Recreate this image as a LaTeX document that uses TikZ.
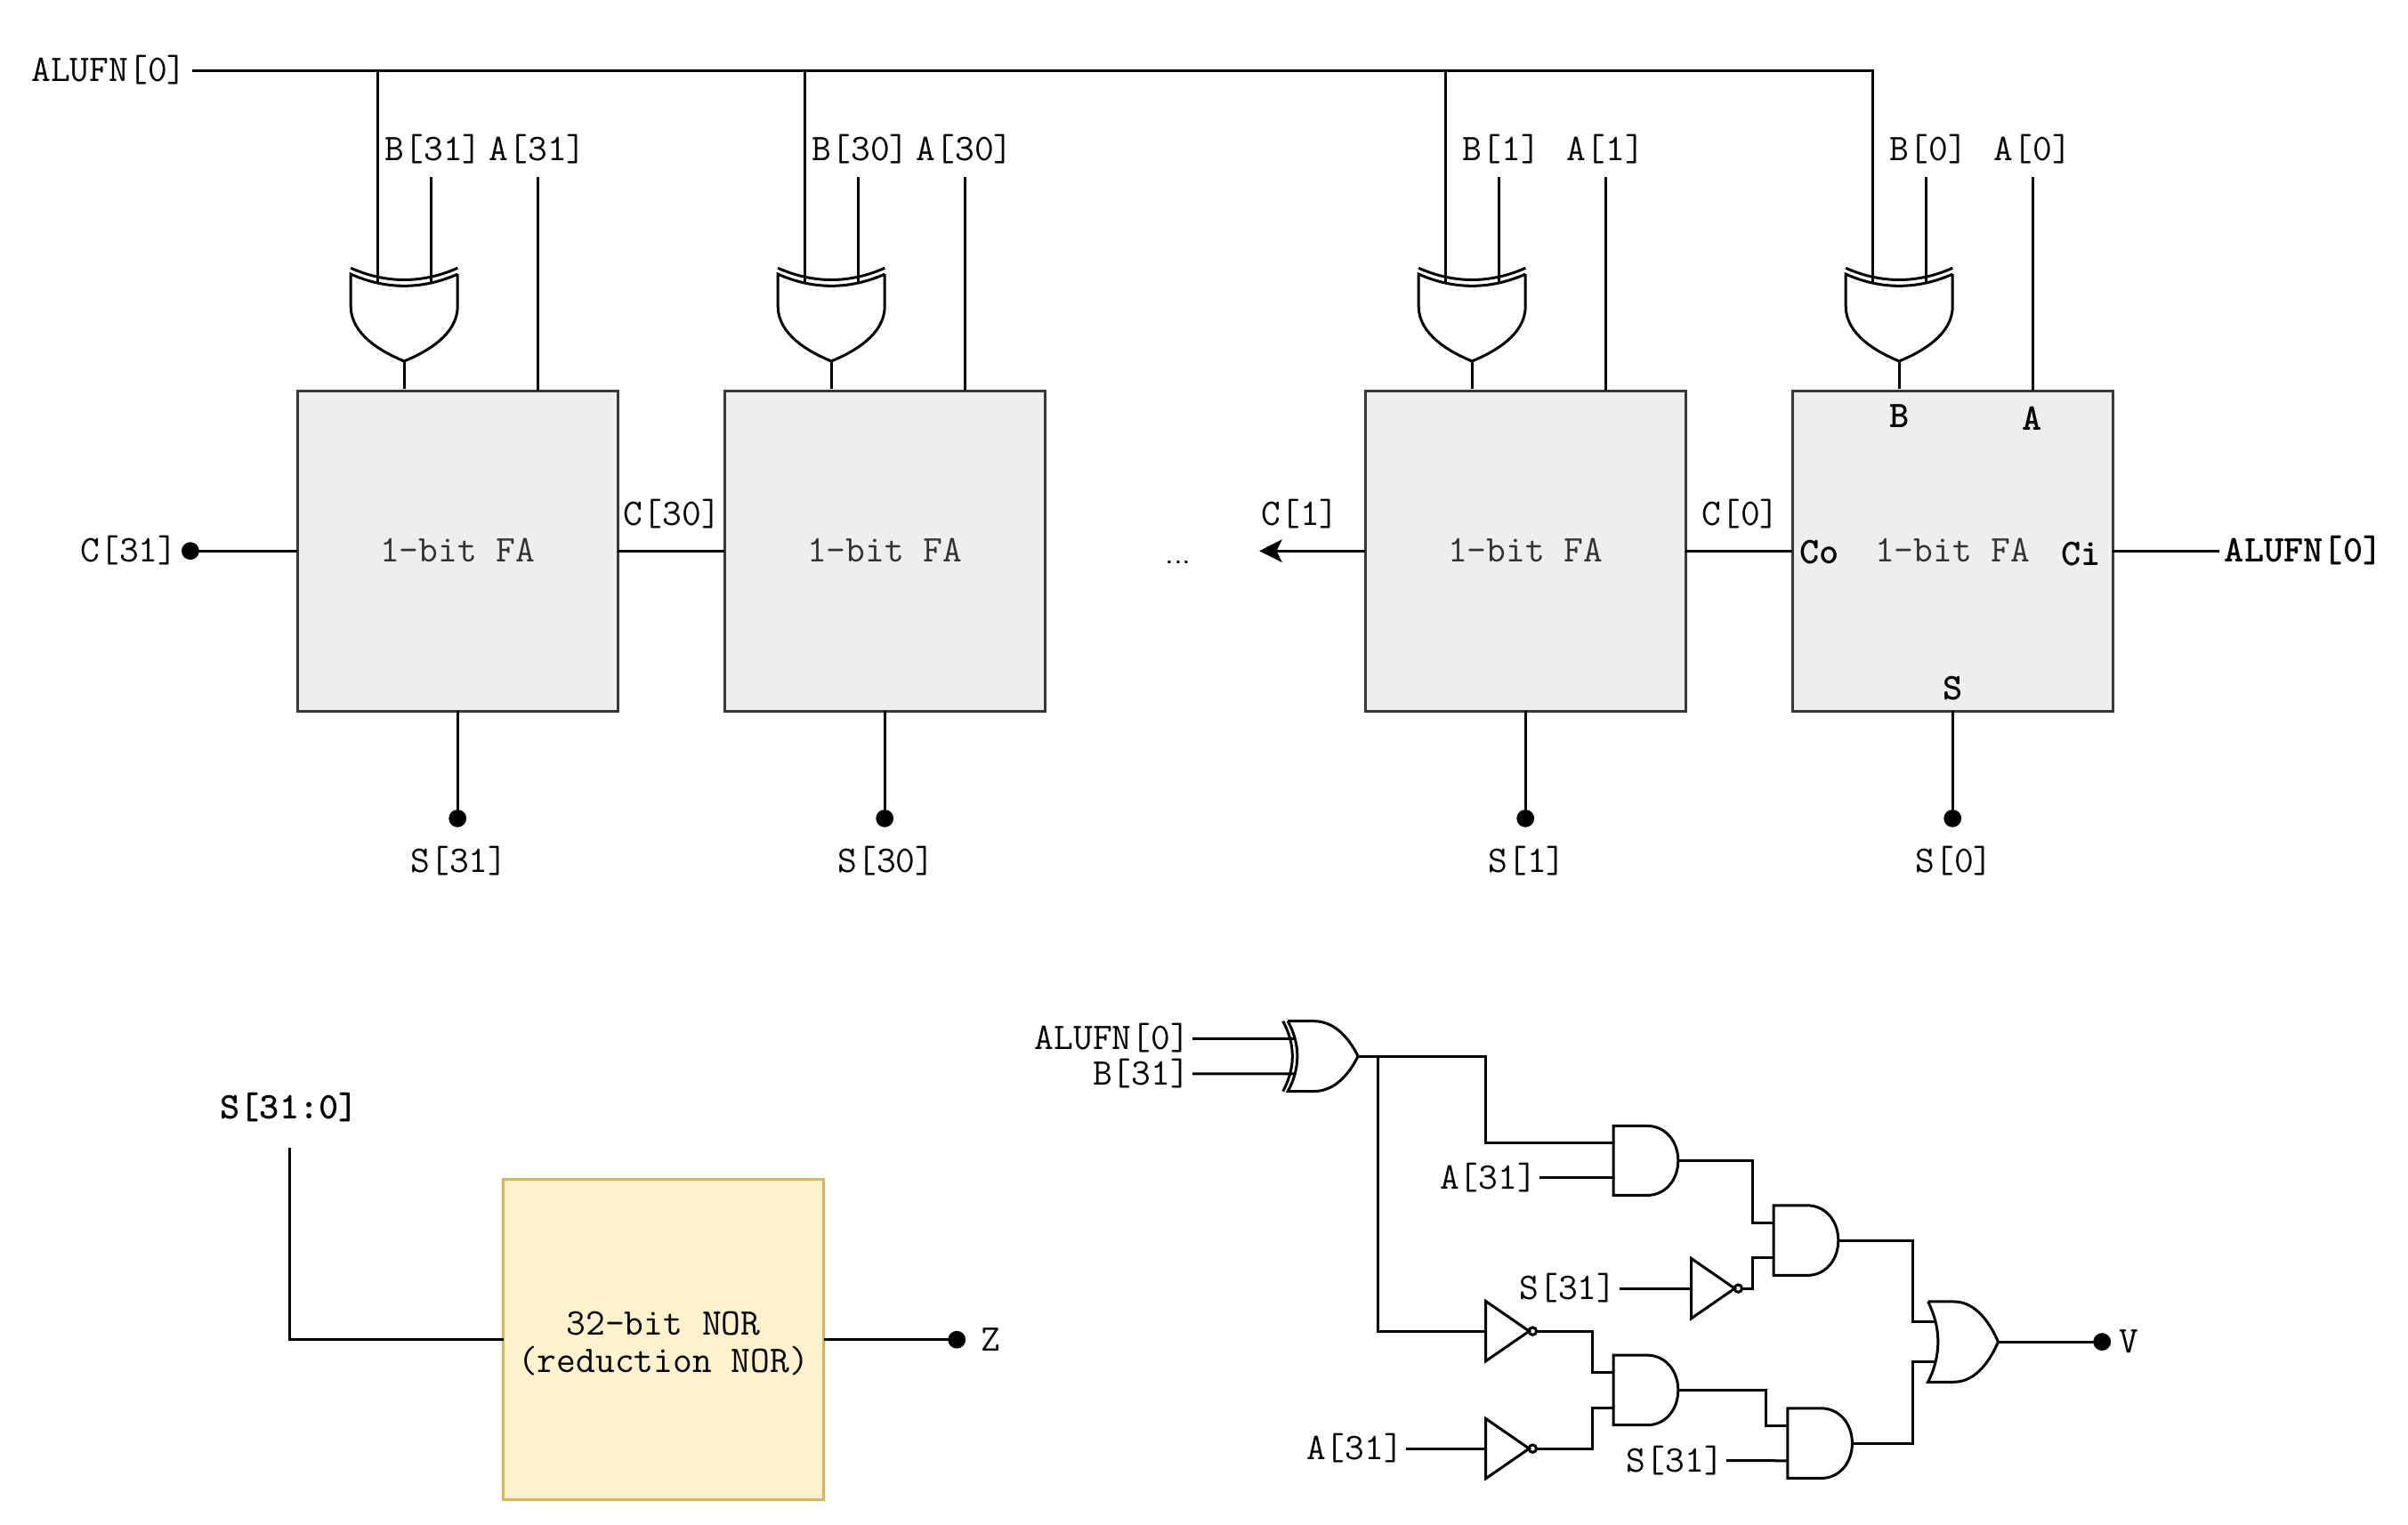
\documentclass[tikz,border=0pt]{standalone}
\usepackage{xcolor}
\usepackage{tikz}
\usetikzlibrary{arrows.meta}
\definecolor{faFill}{HTML}{EEEEEE}
\definecolor{faEdge}{HTML}{36393D}
\definecolor{norFill}{HTML}{FFF2CC}
\definecolor{norEdge}{HTML}{D6B656}

\tikzset{
    fa/.style={draw=faEdge, fill=faFill, text=black!80, minimum width=120pt, minimum height=120pt, text height=10.2pt, text depth=1.8pt, inner sep=0pt, outer sep=0pt},
    nor/.style={draw=norEdge, fill=norFill, align=center, minimum width=120pt, minimum height=120pt, text height=25.6pt, inner sep=0pt, outer sep=0pt},
    lbl/.style={inner xsep=1pt, inner ysep=0pt, outer sep=0pt, minimum height=21.2pt, text height=10.2pt, text depth=1.8pt},
    pin/.style={lbl, font=\ttfamily\bfseries\fontsize{14.1}{13.8}\selectfont},
    dotn/.style={circle, fill=black, minimum size=6.6pt, inner sep=0pt, outer sep=0pt},
    topgate/.style={rotate=-90, xscale=32.6, yscale=40},
    xorgate/.pic={
        \draw (0,-.5) -- (.37,-.5) .. controls (.7,-.5) and (.9,-.2) .. (1,0)
            .. controls (.9,.2) and (.7,.5) .. (.37,.5) -- (0,.5)
            .. controls (.18,.17) and (.18,-.17) .. (0,-.5);
        \draw (-.07,.5) .. controls (.11,.17) and (.11,-.17) .. (-.07,-.5);
        \coordinate (-p) at (.1,-.25);
        \coordinate (-q) at (.1,.25);
        \coordinate (-o) at (1,0);
    },
    orgate/.pic={
        \draw (0,-.5) -- (.37,-.5) .. controls (.7,-.5) and (.9,-.2) .. (1,0)
            .. controls (.9,.2) and (.7,.5) .. (.37,.5) -- (0,.5)
            .. controls (.19,.17) and (.19,-.17) .. (0,-.5);
        \coordinate (-p) at (.09,-.25);
        \coordinate (-q) at (.09,.25);
        \coordinate (-o) at (1,0);
    },
    andgate/.pic={
        \draw (0,-.5) -- (.52,-.5) .. controls (.8,-.5) and (1,-.28) .. (1,0)
            .. controls (1,.28) and (.8,.5) .. (.52,.5) -- (0,.5) -- cycle;
        \coordinate (-p) at (0,-.25);
        \coordinate (-q) at (0,.25);
        \coordinate (-o) at (1,0);
    },
    notgate/.pic={
        \draw (0,-.5) -- (1,0) -- (0,.5) -- cycle;
        \draw (1.08,0) ellipse [x radius=.086, y radius=.062];
        \coordinate (-i) at (0,0);
        \coordinate (-o) at (1.166,0);
    }
}

\begin{document}
\begin{tikzpicture}[x=1pt, y=-1pt, line width=1pt, font=\ttfamily\fontsize{14.1}{13.8}\selectfont]
    \useasboundingbox (0,0) rectangle (902,571);

    % ripple adder
    \node[fa] (fa31) at (171.4,206.4) {1-bit FA};
    \node[fa] (fa30) at (331.4,206.4) {1-bit FA};
    \node[fa] (fa1) at (571.4,206.4) {1-bit FA};
    \node[fa] (fa0) at (731.4,206.4) {1-bit FA};

    \pic[topgate] (gx31) at (151.4,102.7) {xorgate};
    \pic[topgate] (gx30) at (311.4,102.7) {xorgate};
    \pic[topgate] (gx1) at (551.4,102.7) {xorgate};
    \pic[topgate] (gx0) at (711.4,102.7) {xorgate};

    \node[lbl, anchor=east, inner xsep=2pt] (alu) at (71.9,26.4) {ALUFN[0]};
    \node[lbl, anchor=south] (b31) at (162.4,66.4) {B[31]};
    \node[lbl, anchor=south] (a31) at (201.4,66.4) {A[31]};
    \node[lbl, anchor=south] (b30) at (322.4,66.4) {B[30]};
    \node[lbl, anchor=south] (a30) at (361.4,66.4) {A[30]};
    \node[lbl, anchor=south] (b1) at (562.4,66.4) {B[1]};
    \node[lbl, anchor=south] (a1) at (601.4,66.4) {A[1]};
    \node[lbl, anchor=south] (b0) at (722.4,66.4) {B[0]};
    \node[lbl, anchor=south] (a0) at (761.4,66.4) {A[0]};

    \draw (alu.east) -| (gx0-q);
    \draw (alu.east -| gx31-q) -- (gx31-q);
    \draw (alu.east -| gx30-q) -- (gx30-q);
    \draw (alu.east -| gx1-q) -- (gx1-q);

    \draw (b31.south -| gx31-p) -- (gx31-p);
    \draw (b30.south -| gx30-p) -- (gx30-p);
    \draw (b1.south -| gx1-p) -- (gx1-p);
    \draw (b0.south -| gx0-p) -- (gx0-p);

    \draw (a31.south) -- (a31.south |- fa31.north);
    \draw (a30.south) -- (a30.south |- fa30.north);
    \draw (a1.south) -- (a1.south |- fa1.north);
    \draw (a0.south) -- (a0.south |- fa0.north);

    \draw (gx31-o) -- ++(0,10.3);
    \draw (gx30-o) -- ++(0,10.3);
    \draw (gx1-o) -- ++(0,10.3);
    \draw (gx0-o) -- ++(0,10.3);

    \node[dotn] (dc31) at (71.3,206.4) {};
    \node[lbl, anchor=east] (lc31) at (67.5,206.4) {C[31]};
    \draw (dc31.center) -- (fa31.west);
    \draw (fa31.east) -- (fa30.west);
    \node[lbl] (lc30) at (251.8,192.7) {C[30]};
    \node[lbl, font=\sffamily\fontsize{12}{13}\selectfont] (gap) at (441.3,207) {...};
    \coordinate (c1end) at (471.7,206.4);
    \draw[-{Stealth[length=8.5pt, width=8.5pt, inset=2pt]}] (fa1.west) -- (c1end);
    \node[lbl] (lc1) at (487,192.7) {C[1]};
    \draw (fa1.east) -- (fa0.west);
    \node[lbl] (lc0) at (652,192.7) {C[0]};

    \node[dotn] (ds31) at (171.4,306.6) {};
    \node[dotn] (ds30) at (331.4,306.6) {};
    \node[dotn] (ds1) at (571.4,306.6) {};
    \node[dotn] (ds0) at (731.4,306.6) {};
    \draw (fa31.south) -- (ds31.center);
    \draw (fa30.south) -- (ds30.center);
    \draw (fa1.south) -- (ds1.center);
    \draw (fa0.south) -- (ds0.center);
    \node[lbl] (ls31) at (172,322.7) {S[31]};
    \node[lbl] (ls30) at (332,322.7) {S[30]};
    \node[lbl] (ls1) at (572,322.7) {S[1]};
    \node[lbl] (ls0) at (732,322.7) {S[0]};

    % pins of the last stage
    \node[pin] (pb) at (711.6,155.8) {B};
    \node[pin] (pa) at (761.3,157) {A};
    \node[pin] (pco) at (681.6,207) {Co};
    \node[pin] (pci) at (779.4,207.6) {Ci};
    \node[pin] (ps) at (731.6,258) {S};
    \node[pin, anchor=west, inner xsep=2pt] (alur) at (831.3,206.4) {ALUFN[0]};
    \draw (fa0.east) -- (alur.west);

    \begin{scope}[yshift=-.3pt]
    % zero flag
    \node[nor] (nor32) at (248.5,501.6) {32-bit NOR\\(reduction NOR)};
    \node[pin, minimum height=29.8pt] (sall) at (108.4,414.8) {S[31:0]};
    \node[dotn] (dz) at (358.4,501.6) {};
    \node[lbl] (lz) at (371,501.6) {Z};
    \draw (sall.south) |- (nor32.west);
    \draw (nor32.east) -- (dz.center);

    % overflow flag
    \pic[xscale=26.3, yscale=26.3] (gxv) at (482.4,395.4) {xorgate};
    \pic[xscale=24.2, yscale=26] (ga) at (604.4,434.5) {andgate};
    \pic[xscale=24.2, yscale=26.2] (gb) at (604.4,520.5) {andgate};
    \pic[xscale=24.2, yscale=26.2] (gc) at (664.4,464.4) {andgate};
    \pic[xscale=24.2, yscale=26.2] (gd) at (669.6,540.4) {andgate};
    \pic[xscale=26.3, yscale=30.1] (gor) at (722.2,502.4) {orgate};
    \pic[xscale=16.3, yscale=22.5] (n1) at (556.5,498.4) {notgate};
    \pic[xscale=16.3, yscale=22.5] (n2) at (556.5,542.4) {notgate};
    \pic[xscale=16.3, yscale=22.5] (n3) at (633.5,482.4) {notgate};

    \node[lbl, anchor=east] (vf) at (446.7,388.8) {ALUFN[0]};
    \node[lbl, anchor=east] (vb) at (446.7,402) {B[31]};
    \node[lbl, anchor=east] (va1) at (576.7,441) {A[31]};
    \node[lbl, anchor=east] (vs1) at (606.5,482.4) {S[31]};
    \node[lbl, anchor=east] (va2) at (526.7,542.4) {A[31]};
    \node[lbl, anchor=east] (vs2) at (646.6,546.9) {S[31]};
    \node[dotn] (dv) at (787.4,502.4) {};
    \node[lbl] (lv) at (797.3,502.4) {V};

    \draw (vf.east) -- (gxv-p);
    \draw (vb.east) -- (gxv-q);
    \draw (gxv-o) -- ++(47.8,0) |- (ga-p);
    \draw (gxv-o) -- ++(7.6,0) |- (n1-i);
    \draw (va1.east) -- (ga-q);
    \draw (vs1.east) -- (n3-i);
    \draw (va2.east) -- (n2-i);
    \draw (n1-o) -- ++(20.9,0) |- (gb-p);
    \draw (n2-o) -- ++(20.9,0) |- (gb-q);
    \draw (n3-o) -- ++(4.1,0) |- (gc-q);
    \draw (ga-o) -- ++(28,0) |- (gc-p);
    \draw (gb-o) -- ++(32.9,0) |- (gd-p);
    \draw (vs2.east) -- (gd-q);
    \draw (gc-o) -- ++(27.9,0) |- (gor-p);
    \draw (gd-o) -- ++(22.7,0) |- (gor-q);
    \draw (gor-o) -- (dv.center);
    \end{scope}
\end{tikzpicture}
\end{document}
